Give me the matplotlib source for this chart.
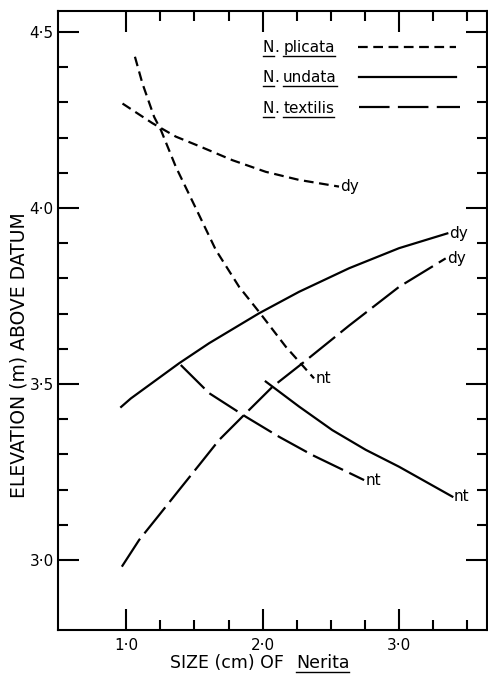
"""Nerita size vs elevation chart (recreation)."""
import matplotlib
matplotlib.use("Agg")
import matplotlib.pyplot as plt
from matplotlib.lines import Line2D
from matplotlib.ticker import FixedLocator
from matplotlib.transforms import IdentityTransform

plt.rcParams["font.family"] = ["DejaVu Sans"]
plt.rcParams["lines.scale_dashes"] = False

# ---- data (size cm, elevation m) --------------------------------------------
plicata_dy_x = [0.973, 1.193, 1.364, 1.535, 1.779, 2.023, 2.267, 2.560]
plicata_dy_y = [4.297, 4.241, 4.203, 4.176, 4.136, 4.103, 4.080, 4.061]
plicata_nt_x = [1.064, 1.119, 1.205, 1.254, 1.364, 1.511, 1.657, 1.828,
                1.974, 2.170, 2.377]
plicata_nt_y = [4.430, 4.354, 4.259, 4.222, 4.117, 3.999, 3.881, 3.776,
                3.705, 3.606, 3.516]

undata_dy_x = [0.963, 1.034, 1.388, 1.608, 1.974, 2.267, 2.634, 3.000, 3.354]
undata_dy_y = [3.435, 3.459, 3.559, 3.616, 3.701, 3.762, 3.829, 3.886, 3.928]
undata_nt_x = [2.023, 2.267, 2.511, 2.756, 3.000, 3.391]
undata_nt_y = [3.507, 3.436, 3.369, 3.313, 3.265, 3.180]

textilis_dy_x = [0.968, 1.095, 1.242, 1.388, 1.535, 1.681, 1.864, 2.072,
                 2.292, 2.634, 3.000, 3.342]
textilis_dy_y = [2.981, 3.057, 3.128, 3.199, 3.270, 3.341, 3.412, 3.492,
                 3.559, 3.666, 3.776, 3.857]
textilis_nt_x = [1.400, 1.608, 1.877, 2.121, 2.365, 2.744]
textilis_nt_y = [3.554, 3.474, 3.407, 3.350, 3.298, 3.227]

y_major = [3.0, 3.5, 4.0, 4.5]
y_labels = ["3·0", "3·5", "4·0", "4·5"]
y_minor = [3.1, 3.2, 3.3, 3.4, 3.6, 3.7, 3.8, 3.9, 4.1, 4.2, 4.3, 4.4]
x_major = [1.0, 2.0, 3.0]
x_labels = ["1·0", "2·0", "3·0"]
x_minor = [1.25, 1.5, 1.75, 2.25, 2.5, 2.75, 3.25, 3.5]

SHORT = (7, 4)
LONG = (24, 5)

W, H = 489, 676
fig = plt.figure(figsize=(W / 100, H / 100), dpi=100)
ax = fig.add_axes([58 / W, 46 / H, (487 - 58) / W, (630 - 11) / H])
ax.set_xlim(0.5, 3.645)
ax.set_ylim(2.801, 4.56)

for s in ax.spines.values():
    s.set_linewidth(1.5)

ax.yaxis.set_major_locator(FixedLocator(y_major))
ax.yaxis.set_minor_locator(FixedLocator(y_minor))
ax.xaxis.set_major_locator(FixedLocator(x_major))
ax.xaxis.set_minor_locator(FixedLocator(x_minor))
ax.set_yticklabels(y_labels)
ax.set_xticklabels(x_labels)
ax.tick_params(which="both", direction="in", top=True, right=True,
               width=1.5, labelsize=11, pad=3)
ax.tick_params(which="major", length=15)
ax.tick_params(which="minor", length=7)
ax.tick_params(axis="x", pad=6)

lw = 1.6
ax.plot(plicata_dy_x, plicata_dy_y, color="k", lw=lw, dashes=SHORT)
ax.plot(plicata_nt_x, plicata_nt_y, color="k", lw=lw, dashes=SHORT)
ax.plot(undata_dy_x, undata_dy_y, color="k", lw=lw)
ax.plot(undata_nt_x, undata_nt_y, color="k", lw=lw)
ax.plot(textilis_dy_x, textilis_dy_y, color="k", lw=lw, dashes=LONG)
ax.plot(textilis_nt_x, textilis_nt_y, color="k", lw=lw, dashes=LONG)

# end labels
ends = [
    (plicata_dy_x, plicata_dy_y, "dy"),
    (plicata_nt_x, plicata_nt_y, "nt"),
    (undata_dy_x, undata_dy_y, "dy"),
    (undata_nt_x, undata_nt_y, "nt"),
    (textilis_dy_x, textilis_dy_y, "dy"),
    (textilis_nt_x, textilis_nt_y, "nt"),
]
for xs, ys, lab in ends:
    ax.annotate(lab, (xs[-1], ys[-1]), xytext=(1, 0), textcoords="offset points",
                fontsize=11, ha="left", va="center")

# legend lines
leg_y = [4.457, 4.372, 4.287]
ax.plot([2.70, 3.42], [leg_y[0]] * 2, color="k", lw=lw, dashes=SHORT)
ax.plot([2.71, 3.42], [leg_y[1]] * 2, color="k", lw=lw)
ax.plot([2.71, 3.45], [leg_y[2]] * 2, color="k", lw=lw, dashes=(22, 6))

renderer = fig.canvas.get_renderer()


def seg_text(x, y_img, parts, size=11):
    """Write text pieces from image-pixel position, underlining some."""
    y = H - y_img
    for s, ul, gap in parts:
        t = fig.text(x, y, s, transform=IdentityTransform(), fontsize=size,
                     va="baseline", ha="left")
        bb = t.get_window_extent(renderer)
        if ul:
            fig.add_artist(Line2D([bb.x0, bb.x1], [y - 3.5, y - 3.5],
                                  transform=IdentityTransform(),
                                  color="k", lw=1.0))
        x = bb.x1 + gap


for yy, name in [(52, "plicata"), (82, "undata"), (113, "textilis")]:
    seg_text(263, yy, [("N", True, 0), (".", False, 4), (name, True, 0)])

seg_text(170, 668, [("SIZE (cm) OF", False, 12), ("Nerita", True, 0)], size=12.5)

fig.text(19 / W, 1 - 355 / H, "ELEVATION (m) ABOVE DATUM", rotation=90,
         fontsize=13.5, ha="center", va="center")

fig.savefig("out.png", dpi=100)
